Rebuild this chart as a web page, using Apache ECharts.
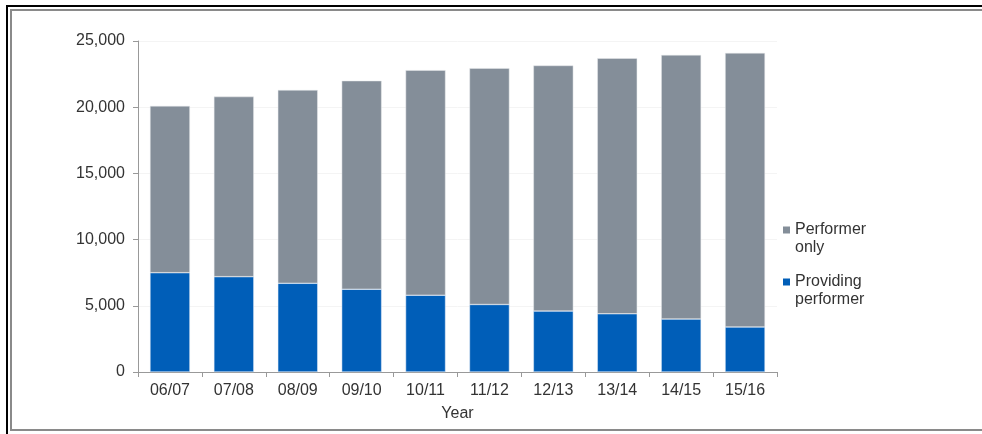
<!DOCTYPE html>
<html>
<head>
<meta charset="utf-8">
<script src="https://cdn.jsdelivr.net/npm/echarts@6/dist/echarts.min.js"></script>
<style>
html,body{margin:0;padding:0;background:#fff;}
#chart{width:982px;height:434px;}
</style>
</head>
<body>
<div id="chart"></div>
<script>
const years = ['06/07','07/08','08/09','09/10','10/11','11/12','12/13','13/14','14/15','15/16'];
const totals = [20100, 20800, 21300, 22000, 22800, 22950, 23150, 23700, 23950, 24100];
const providingPerformer = [7500, 7200, 6700, 6250, 5800, 5100, 4600, 4400, 4000, 3400];
const performerOnly = totals.map((t, i) => t - providingPerformer[i]);
const yTicks = [0, 5000, 10000, 15000, 20000, 25000];

const chart = echarts.init(document.getElementById('chart'), null, {renderer: 'canvas'});
const font = 'Liberation Sans, Arial, sans-serif';
chart.setOption({
  animation: false,
  backgroundColor: '#fff',
  grid: {left: 138, right: 205, top: 41, bottom: 62},
  legend: {
    orient: 'vertical',
    left: 778,
    top: 216,
    itemWidth: 7,
    itemHeight: 25,
    itemGap: 16,
    icon: 'path://M0,0h7v7h-7zM0,25',
    itemStyle: {borderWidth: 0},
    data: ['Performer only', 'Providing performer'],
    formatter: n => n.replace(' ', '\n'),
    textStyle: {fontFamily: font, fontSize: 16, color: '#333', lineHeight: 18}
  },
  xAxis: {
    type: 'category',
    data: years,
    name: 'Year',
    nameLocation: 'middle',
    nameGap: 34,
    nameTextStyle: {fontFamily: font, fontSize: 16, color: '#333'},
    axisLine: {lineStyle: {color: '#999', width: 1}},
    axisTick: {show: true, length: 5, lineStyle: {color: '#999'}},
    axisLabel: {fontFamily: font, fontSize: 16, color: '#333', margin: 11}
  },
  yAxis: {
    type: 'value',
    min: yTicks[0],
    max: yTicks[yTicks.length - 1],
    interval: 5000,
    axisLine: {show: true, lineStyle: {color: '#999', width: 1}},
    axisTick: {show: true, length: 5, lineStyle: {color: '#999'}},
    splitLine: {show: true, lineStyle: {color: '#f4f4f4'}},
    axisLabel: {fontFamily: font, fontSize: 16, color: '#333', margin: 13,
      formatter: v => v.toLocaleString('en-US')}
  },
  series: [
    {
      name: 'Providing performer',
      type: 'bar',
      stack: 'total',
      barWidth: '62.5%',
      data: providingPerformer,
      itemStyle: {color: '#005EB8', borderColor: '#e6eef8', borderWidth: 0.5}
    },
    {
      name: 'Performer only',
      type: 'bar',
      stack: 'total',
      barWidth: '62.5%',
      data: performerOnly,
      itemStyle: {color: '#848E99', borderColor: '#e8eaec', borderWidth: 0.5}
    }
  ],
  graphic: [
    {type: 'line', shape: {x1: 6, y1: 6, x2: 982, y2: 6}, style: {stroke: '#000', lineWidth: 2}},
    {type: 'line', shape: {x1: 7, y1: 6, x2: 7, y2: 434}, style: {stroke: '#000', lineWidth: 2}},
    {type: 'line', shape: {x1: 10, y1: 10, x2: 982, y2: 10}, style: {stroke: '#8a8a8a', lineWidth: 2}},
    {type: 'line', shape: {x1: 11, y1: 10, x2: 11, y2: 430}, style: {stroke: '#8a8a8a', lineWidth: 2}},
    {type: 'line', shape: {x1: 10, y1: 430, x2: 982, y2: 430}, style: {stroke: '#8a8a8a', lineWidth: 2}}
  ]
});
</script>
</body>
</html>
